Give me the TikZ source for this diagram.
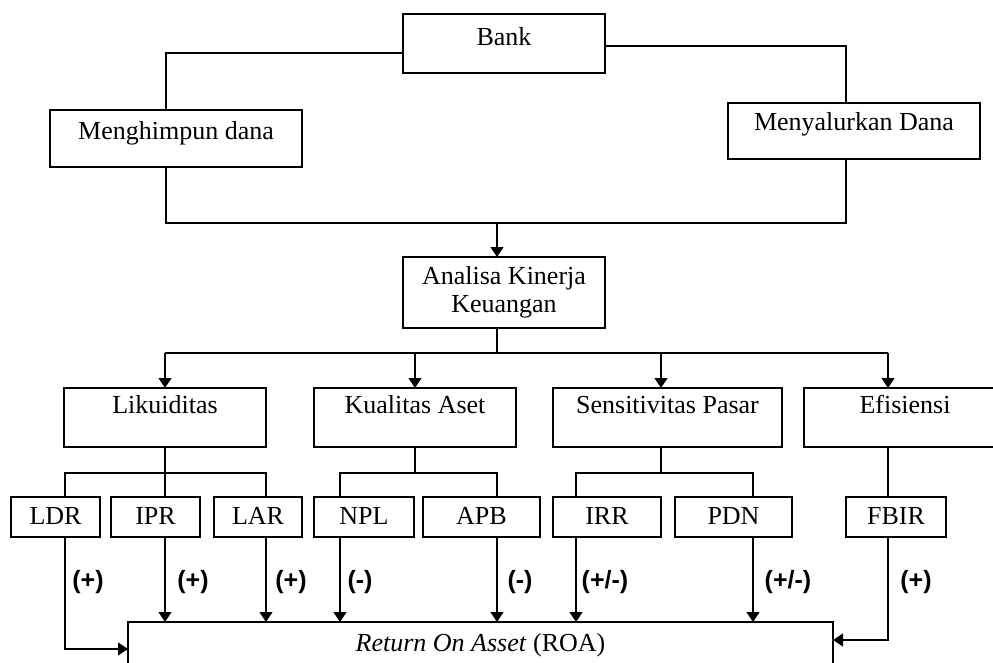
\documentclass[tikz,border=0pt]{standalone}
\usepackage{fontspec}
\setmainfont{Liberation Serif}
\newfontfamily\signfont{Liberation Sans}
\usetikzlibrary{arrows.meta}
\tikzset{
  box/.style={draw, line width=1.2pt, inner xsep=0pt, inner ysep=0pt, outer sep=0pt, anchor=north west,
    font=\fontsize{26}{28}\selectfont},
  sign/.style={font=\signfont\bfseries\fontsize{25}{28}\selectfont},
  arr/.style={-{Triangle[length=10pt,width=13pt]}},
}
\begin{document}
\begin{tikzpicture}[x=1pt,y=-1pt,line width=1.2pt]
          \useasboundingbox (0,0) rectangle (993,662);
          \clip (0,0) rectangle (993,662);
          % bank level
          \node[box,minimum width=202pt,text height=31pt,text depth=28pt] (bank) at (403,14) {Bank};
          \node[box,minimum width=252pt,text height=29pt,text depth=28pt] (himpun) at (50,110) {Menghimpun dana};
          \node[box,minimum width=252pt,text height=27pt,text depth=29pt] (salur) at (728,103) {Menyalurkan Dana};
          \node[box,minimum width=202pt,minimum height=71pt,align=center] (analisa) at (403,257) {Analisa Kinerja\\Keuangan};
          % aspek
          \node[box,minimum width=202pt,text height=25pt,text depth=34pt] (likuid) at (64,388) {Likuiditas};
          \node[box,minimum width=202pt,text height=25pt,text depth=34pt] (kualitas) at (314,388) {Kualitas Aset};
          \node[box,minimum width=229pt,text height=25pt,text depth=34pt] (sensitiv) at (553,388) {Sensitivitas Pasar};
          \node[box,minimum width=202pt,text height=25pt,text depth=34pt] (efisien) at (804,388) {Efisiensi};
          % rasio
          \node[box,minimum width=89pt,text height=27pt,text depth=13pt] (ldr) at (11,497) {LDR};
          \node[box,minimum width=89pt,text height=27pt,text depth=13pt] (ipr) at (111,497) {IPR};
          \node[box,minimum width=88pt,text height=27pt,text depth=13pt] (lar) at (214,497) {LAR};
          \node[box,minimum width=100pt,text height=27pt,text depth=13pt] (npl) at (314,497) {NPL};
          \node[box,minimum width=117pt,text height=27pt,text depth=13pt] (apb) at (423,497) {APB};
          \node[box,minimum width=108pt,text height=27pt,text depth=13pt] (irr) at (553,497) {IRR};
          \node[box,minimum width=117pt,text height=27pt,text depth=13pt] (pdn) at (675,497) {PDN};
          \node[box,minimum width=100pt,text height=27pt,text depth=13pt] (fbir) at (846,497) {FBIR};
          \node[box,minimum width=705pt,text height=29pt,text depth=25pt] (roa) at (128,622) {\textit{Return On Asset} (ROA)};
          % top connectors
          \draw ([yshift=-9.5pt]bank.west) -| ([xshift=-10pt]himpun.north);
          \draw ([yshift=-2.5pt]bank.east) -| ([xshift=-8pt]salur.north);
          \draw ([xshift=-10pt]himpun.south) |- ([xshift=-8pt,yshift=-64pt]salur.south) -- ([xshift=-8pt]salur.south);
          \draw[arr] ([xshift=-7pt,yshift=34pt]analisa.north) -- ([xshift=-7pt]analisa.north);
          \draw ([xshift=-7pt]analisa.south) -- ([xshift=-7pt,yshift=-25pt]analisa.south);
          \draw ([yshift=35pt]likuid.north) -- ([xshift=-17pt,yshift=35pt]efisien.north);
          \draw[arr] ([yshift=35pt]likuid.north) -- (likuid.north);
          \draw[arr] ([yshift=35pt]kualitas.north) -- (kualitas.north);
          \draw[arr] ([xshift=-6.5pt,yshift=35pt]sensitiv.north) -- ([xshift=-6.5pt]sensitiv.north);
          \draw[arr] ([xshift=-17pt,yshift=35pt]efisien.north) -- ([xshift=-17pt]efisien.north);
          % aspek to rasio
          \draw (likuid.south) -- ([xshift=9.5pt]ipr.north);
          \draw ([xshift=9.5pt]ldr.north) |- ([yshift=-26pt]likuid.south) -| ([xshift=8pt]lar.north);
          \draw (kualitas.south) -- ([yshift=-26pt]kualitas.south);
          \draw ([xshift=-24pt]npl.north) |- ([yshift=-26pt]kualitas.south) -| ([xshift=15.5pt]apb.north);
          \draw ([xshift=-6.5pt]sensitiv.south) -- ([xshift=-6.5pt,yshift=-26pt]sensitiv.south);
          \draw ([xshift=-31pt]irr.north) |- ([xshift=-6.5pt,yshift=-26pt]sensitiv.south) -| ([xshift=19.5pt]pdn.north);
          \draw ([xshift=-17pt]efisien.south) -- ([xshift=-8pt]fbir.north);
          % rasio to ROA
          \draw[arr] ([xshift=9.5pt]ldr.south) |- (roa.west);
          \draw[arr] ([xshift=9.5pt]ipr.south) -- ++(0,85);
          \draw[arr] ([xshift=8pt]lar.south) -- ++(0,85);
          \draw[arr] ([xshift=-24pt]npl.south) -- ++(0,85);
          \draw[arr] ([xshift=15.5pt]apb.south) -- ++(0,85);
          \draw[arr] ([xshift=-31pt]irr.south) -- ++(0,85);
          \draw[arr] ([xshift=19.5pt]pdn.south) -- ++(0,85);
          \draw[arr] ([xshift=-8pt]fbir.south) |- ([yshift=9pt]roa.east);
          % signs
          \node[sign] (sLDR) at (88,582) {(+)};
          \node[sign] (sIPR) at (193,582) {(+)};
          \node[sign] (sLAR) at (291,582) {(+)};
          \node[sign] (sNPL) at (360,582) {(-)};
          \node[sign] (sAPB) at (520,582) {(-)};
          \node[sign] (sIRR) at (605,582) {(+/-)};
          \node[sign] (sPDN) at (788,582) {(+/-)};
          \node[sign] (sFBIR) at (916,582) {(+)};
        \end{tikzpicture}
\end{document}
